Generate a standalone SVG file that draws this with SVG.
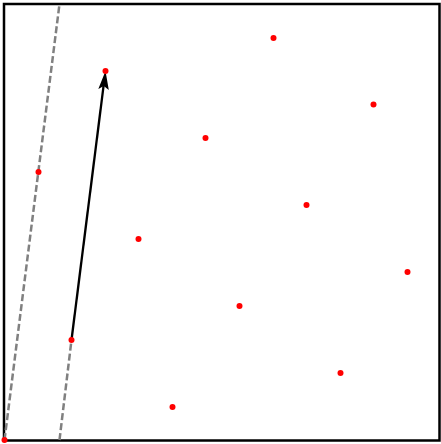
<svg xmlns="http://www.w3.org/2000/svg" width="441" height="444" viewBox="0 0 441 444">
<style>
.dash{stroke:#808080;stroke-width:2.5;stroke-dasharray:7,3;fill:none}
.pt{fill:#ff0000}
</style>
<rect x="0" y="0" width="441" height="444" fill="#ffffff"/>
<rect id="frame" x="4" y="4" width="435.5" height="436.5" fill="none" stroke="#000" stroke-width="2.5"/>
<g id="connectors">
<line class="dash" x1="4.5" y1="440" x2="59.5" y2="4"/>
<line class="dash" x1="59.5" y1="440" x2="71.5" y2="340"/>
<line x1="71.5" y1="340" x2="103.8" y2="84" stroke="#000" stroke-width="2.3"/>
<polygon points="105.5,71 108.8,90 103.8,86 98.3,89" fill="#000"/>
</g>
<g id="points">
<circle class="pt" cx="4.5" cy="440" r="3"/>
<circle class="pt" cx="71.5" cy="340" r="3"/>
<circle class="pt" cx="38.5" cy="172" r="3"/>
<circle class="pt" cx="105.5" cy="71" r="3"/>
<circle class="pt" cx="138.5" cy="239" r="3"/>
<circle class="pt" cx="172.5" cy="407" r="3"/>
<circle class="pt" cx="205.5" cy="138" r="3"/>
<circle class="pt" cx="239.5" cy="306" r="3"/>
<circle class="pt" cx="273.5" cy="38" r="3"/>
<circle class="pt" cx="306.5" cy="205" r="3"/>
<circle class="pt" cx="340.5" cy="373" r="3"/>
<circle class="pt" cx="373.5" cy="104.5" r="3"/>
<circle class="pt" cx="407.5" cy="272" r="3"/>
</g>
</svg>
